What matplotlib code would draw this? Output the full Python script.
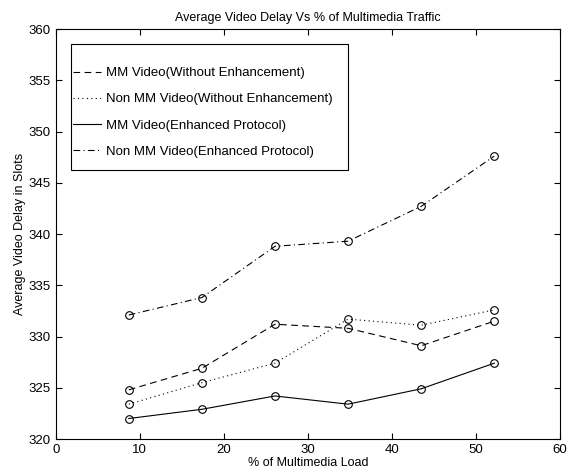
import matplotlib.pyplot as plt
import numpy as np
from matplotlib.patches import Rectangle

plt.rcParams['font.family'] = ['Liberation Sans', 'DejaVu Sans']

# % of multimedia load
load = [8.7, 17.4, 26.1, 34.8, 43.5, 52.2]

# average video delay in slots
mm_without = [324.8, 326.9, 331.2, 330.8, 329.1, 331.5]
nonmm_without = [323.4, 325.5, 327.4, 331.7, 331.1, 332.6]
mm_enhanced = [322.0, 322.9, 324.2, 323.4, 324.9, 327.4]
nonmm_enhanced = [332.1, 333.8, 338.8, 339.3, 342.7, 347.6]

labels = ['MM Video(Without Enhancement)',
          'Non MM Video(Without Enhancement)',
          'MM Video(Enhanced Protocol)',
          'Non MM Video(Enhanced Protocol)']

fig = plt.figure(figsize=(5.73, 4.74), dpi=100)
ax = fig.add_axes([0.0972, 0.0738, 0.8798, 0.8650])

styles = [(0, (6, 4)), (0, (1, 3)), '-', (0, (6, 3, 1, 3))]
handles = []
for ys, ls, lab in zip([mm_without, nonmm_without, mm_enhanced, nonmm_enhanced], styles, labels):
    ax.plot(load, ys, color='black', linestyle=ls, linewidth=0.8,
            marker='o', markersize=5.5, markerfacecolor='none',
            markeredgewidth=0.8)
    h, = ax.plot([], [], color='black', linestyle=ls, linewidth=0.8)
    handles.append(h)

ax.set_xlim(0, 60)
ax.set_ylim(320, 360)
ax.set_xticks(np.arange(0, 61, 10))
ax.set_yticks(np.arange(320, 361, 5))
ax.tick_params(direction='in', top=True, right=True, labelsize=9.5, length=4)

ax.set_xlabel('% of Multimedia Load', fontsize=9, labelpad=1)
ax.set_ylabel('Average Video Delay in Slots', fontsize=9, labelpad=2)
ax.set_title('Average Video Delay Vs % of Multimedia Traffic', fontsize=9, pad=6)

# legend text without frame, box drawn separately (MATLAB-like padding)
leg = ax.legend(handles, labels, loc='upper left', bbox_to_anchor=(0.034, 0.907),
                fontsize=9.5, handlelength=2.1, handletextpad=0.45,
                labelspacing=1.05, borderpad=0, borderaxespad=0,
                frameon=False)
ax.add_patch(Rectangle((0.0303, 0.6561), 0.5493, 0.3073, transform=ax.transAxes,
                       fill=False, edgecolor='black', linewidth=0.8, zorder=5))

fig.savefig('out.png', dpi=100)
